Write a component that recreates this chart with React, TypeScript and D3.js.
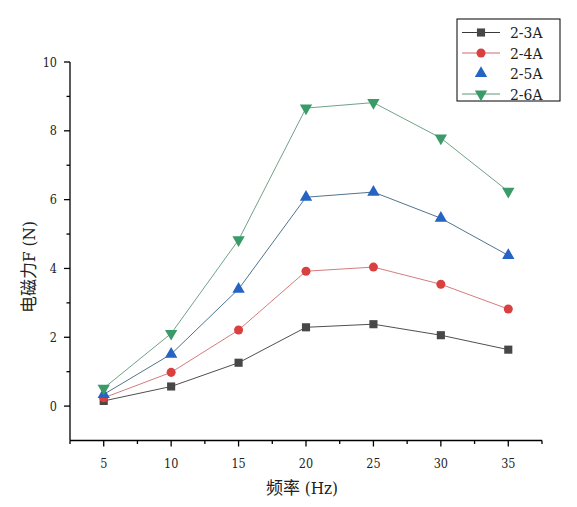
import React, { useEffect, useRef } from "react";
import * as d3 from "d3";

// data
const freqs = [5, 10, 15, 20, 25, 30, 35];
const seriesNames = ["2-3A", "2-4A", "2-5A", "2-6A"];
const s23 = [0.15, 0.57, 1.26, 2.29, 2.38, 2.06, 1.64];
const s24 = [0.24, 0.98, 2.21, 3.92, 4.04, 3.54, 2.82];
const s25 = [0.34, 1.51, 3.4, 6.07, 6.22, 5.46, 4.38];
const s26 = [0.52, 2.11, 4.83, 8.66, 8.82, 7.79, 6.24];
const yTicks = [0, 2, 4, 6, 8, 10];
const xTicks = [5, 10, 15, 20, 25, 30, 35];

const markerColors = ["#474747", "#d94141", "#2563c4", "#3a9a68"];
const lineColors = ["#222222", "#c85a5a", "#24506e", "#4a8a68"];
const shapes = [d3.symbolSquare, d3.symbolCircle, d3.symbolTriangle, d3.symbolTriangle];
const showLegendLine = [true, true, false, true];

const W = 577;
const H = 507;
const FONT = "DejaVu Serif Condensed, DejaVu Serif, Noto Sans CJK SC, serif";

const App = () => {
  const ref = useRef(null);

  useEffect(() => {
    const svg = d3.select(ref.current);
    svg.selectAll("*").remove();

    const x = d3.scaleLinear().domain([2.5, 37.5]).range([70, 542]);
    const y = d3.scaleLinear().domain([-1, 10]).range([440.5, 62]);
    const allSeries = [s23, s24, s25, s26];

    const g = svg.append("g");

    // axes lines
    g.append("line")
      .attr("x1", x(2.5)).attr("x2", x(37.5))
      .attr("y1", y(-1)).attr("y2", y(-1))
      .attr("stroke", "#000").attr("stroke-width", 1.3);
    g.append("line")
      .attr("x1", x(2.5)).attr("x2", x(2.5))
      .attr("y1", y(-1)).attr("y2", y(10))
      .attr("stroke", "#000").attr("stroke-width", 1.3);

    // x ticks
    const xMinor = d3.range(2.5, 37.6, 5);
    g.selectAll(".xmaj").data(xTicks).enter().append("line")
      .attr("x1", (d: any) => x(d)).attr("x2", (d: any) => x(d))
      .attr("y1", y(-1)).attr("y2", y(-1) + 6)
      .attr("stroke", "#000").attr("stroke-width", 1.3);
    g.selectAll(".xmin").data(xMinor).enter().append("line")
      .attr("x1", (d: any) => x(d)).attr("x2", (d: any) => x(d))
      .attr("y1", y(-1)).attr("y2", y(-1) + 3.5)
      .attr("stroke", "#000").attr("stroke-width", 1.3);
    g.selectAll(".xlab").data(xTicks).enter().append("text")
      .attr("x", (d: any) => x(d)).attr("y", 468)
      .attr("text-anchor", "middle")
      .style("font-family", FONT).attr("font-size", 12.5)
      .attr("fill", "#222")
      .text((d: any) => d);

    // y ticks
    const yMinor = d3.range(1, 10, 2);
    g.selectAll(".ymaj").data(yTicks).enter().append("line")
      .attr("x1", x(2.5) - 6).attr("x2", x(2.5))
      .attr("y1", (d: any) => y(d)).attr("y2", (d: any) => y(d))
      .attr("stroke", "#000").attr("stroke-width", 1.3);
    g.selectAll(".ymin").data(yMinor).enter().append("line")
      .attr("x1", x(2.5) - 3.5).attr("x2", x(2.5))
      .attr("y1", (d: any) => y(d)).attr("y2", (d: any) => y(d))
      .attr("stroke", "#000").attr("stroke-width", 1.3);
    g.selectAll(".ylab").data(yTicks).enter().append("text")
      .attr("x", 57).attr("y", (d: any) => y(d) + 4.5)
      .attr("text-anchor", "end")
      .style("font-family", FONT).attr("font-size", 12.5)
      .attr("fill", "#222")
      .text((d: any) => d);

    // titles
    g.append("text")
      .attr("x", 302).attr("y", 494)
      .attr("text-anchor", "middle")
      .style("font-family", FONT).attr("font-size", 17)
      .attr("fill", "#222")
      .text("频率 (Hz)");
    g.append("text")
      .attr("transform", "translate(35,267) rotate(-90)")
      .attr("text-anchor", "middle")
      .style("font-family", FONT).attr("font-size", 17)
      .attr("fill", "#222")
      .text("电磁力F (N)");

    // series
    const line = d3.line<number>()
      .x((_d, i) => x(freqs[i]))
      .y((d) => y(d));

    allSeries.forEach((vals, si) => {
      g.append("path")
        .datum(vals)
        .attr("d", line as any)
        .attr("fill", "none")
        .attr("stroke", lineColors[si])
        .attr("stroke-width", 0.8);
    });
    allSeries.forEach((vals, si) => {
      const sym = d3.symbol().type(shapes[si]).size(si === 1 ? 64 : 66);
      g.selectAll(".m" + si).data(vals).enter().append("path")
        .attr("d", sym as any)
        .attr("transform", (d: any, i: number) =>
          `translate(${x(freqs[i])},${y(d)})` + (si === 3 ? " rotate(180)" : ""))
        .attr("fill", markerColors[si]);
    });

    // legend
    const lg = svg.append("g").attr("transform", "translate(457,19)");
    lg.append("rect")
      .attr("x", 0).attr("y", 0).attr("width", 103).attr("height", 82)
      .attr("fill", "#fff").attr("stroke", "#000").attr("stroke-width", 1);
    seriesNames.forEach((name, si) => {
      const cy = 13.5 + si * 20.5;
      if (showLegendLine[si]) {
        lg.append("line")
          .attr("x1", 5).attr("x2", 43).attr("y1", cy).attr("y2", cy)
          .attr("stroke", lineColors[si]).attr("stroke-width", 0.9);
      }
      const sym = d3.symbol().type(shapes[si]).size(si === 1 ? 64 : 66);
      lg.append("path")
        .attr("d", sym as any)
        .attr("transform", `translate(24,${cy})` + (si === 3 ? " rotate(180)" : ""))
        .attr("fill", markerColors[si]);
      lg.append("text")
        .attr("x", 53).attr("y", cy + 5.5)
        .style("font-family", FONT).attr("font-size", 15.5)
        .attr("fill", "#222")
        .text(name);
    });
  }, []);

  return (
    <svg
      ref={ref}
      width={W}
      height={H}
      style={{ position: "absolute", left: 0, top: 0, background: "#fff" }}
    ></svg>
  );
};

export default App;
